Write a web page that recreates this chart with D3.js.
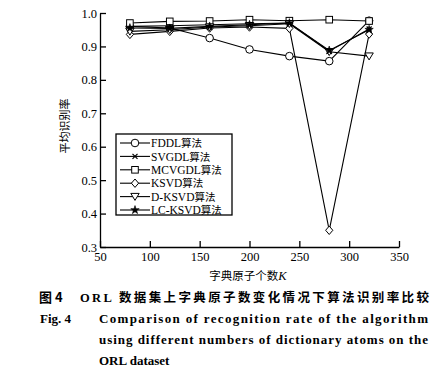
<!DOCTYPE html>
<html>
<head>
<meta charset="utf-8">
<script src="https://cdn.jsdelivr.net/npm/d3@7"></script>
<style>
  body { margin: 0; background: #fff; }
  svg text { font-family: "Liberation Serif", "Noto Sans CJK SC", serif; fill: #000; }
</style>
</head>
<body>
<div id="chart"></div>
<script>
// atom counts K
var atoms = [80, 120, 160, 200, 240, 280, 320];

var names = ["FDDL算法", "SVGDL算法", "MCVGDL算法", "KSVD算法", "D-KSVD算法", "LC-KSVD算法"];
var shapes = ["circle", "cross", "square", "diamond", "triangle", "star"];

var fddl = [0.960, 0.955, 0.925, 0.891, 0.871, 0.856, 0.977];
var svgdl = [0.960, 0.962, 0.965, 0.968, 0.970, 0.886, 0.952];
var mcvgdl = [0.970, 0.975, 0.976, 0.980, 0.977, 0.980, 0.976];
var ksvd = [0.936, 0.945, 0.955, 0.958, 0.954, 0.350, 0.937];
var dksvd = [0.945, 0.950, 0.958, 0.962, 0.968, 0.884, 0.871];
var lcksvd = [0.955, 0.954, 0.960, 0.965, 0.970, 0.888, 0.950];

var series = [fddl, svgdl, mcvgdl, ksvd, dksvd, lcksvd];

var xTicks = [50, 100, 150, 200, 250, 300, 350];
var yTicks = [0.3, 0.4, 0.5, 0.6, 0.7, 0.8, 0.9, 1.0];

var width = 439, height = 374;

var svg = d3.select("#chart").append("svg")
    .attr("width", width)
    .attr("height", height);

var x = d3.scaleLinear().domain([50, 350]).range([100, 399]);
var y = d3.scaleLinear().domain([0.3, 1.0]).range([247, 13]);

// axes, ticks pointing inward
var xAxis = svg.append("g")
    .attr("transform", "translate(0," + y(0.3) + ")")
    .call(d3.axisBottom(x).tickValues(xTicks).tickSize(-6).tickPadding(5).tickSizeOuter(0));
xAxis.select(".domain").attr("stroke-width", 1.3);
xAxis.selectAll("line").attr("stroke-width", 1.3);
xAxis.selectAll("text").style("font-size", "12.5px").style("font-family", "Liberation Serif");

var yAxis = svg.append("g")
    .attr("transform", "translate(" + x(50) + ",0)")
    .call(d3.axisLeft(y).tickValues(yTicks).tickFormat(d3.format(".1f")).tickSize(-6).tickPadding(3).tickSizeOuter(0));
yAxis.select(".domain").attr("stroke-width", 1.3);
yAxis.selectAll("line").attr("stroke-width", 1.3);
yAxis.selectAll("text").style("font-size", "12.5px").style("font-family", "Liberation Serif");

// axis titles
var xt = svg.append("text")
    .attr("x", 248).attr("y", 280)
    .attr("text-anchor", "middle")
    .style("font-size", "11.5px");
xt.append("tspan").style("font-family", "Noto Sans CJK SC").text("字典原子个数");
xt.append("tspan").style("font-style", "italic").style("font-size", "12.5px").text("K");

svg.append("text")
    .attr("transform", "translate(69,126) rotate(-90)")
    .attr("text-anchor", "middle")
    .style("font-family", "Noto Sans CJK SC")
    .style("font-size", "11px")
    .text("平均识别率");

// marker drawing
function marker(g, shape, cx, cy) {
    if (shape == "circle") {
        g.append("circle").attr("cx", cx).attr("cy", cy).attr("r", 3.8)
            .attr("fill", "#fff").attr("stroke", "#000").attr("stroke-width", 1);
    } else if (shape == "cross") {
        g.append("path").attr("d", "M" + (cx - 2.5) + "," + (cy - 2.5) + "L" + (cx + 2.5) + "," + (cy + 2.5) +
            "M" + (cx - 2.5) + "," + (cy + 2.5) + "L" + (cx + 2.5) + "," + (cy - 2.5))
            .attr("stroke", "#000").attr("stroke-width", 1.2);
    } else if (shape == "square") {
        g.append("rect").attr("x", cx - 3.3).attr("y", cy - 3.3).attr("width", 6.6).attr("height", 6.6)
            .attr("fill", "#fff").attr("stroke", "#000").attr("stroke-width", 1);
    } else if (shape == "diamond") {
        g.append("path").attr("d", "M" + cx + "," + (cy - 4.2) + "L" + (cx + 3.6) + "," + cy +
            "L" + cx + "," + (cy + 4.2) + "L" + (cx - 3.6) + "," + cy + "Z")
            .attr("fill", "#fff").attr("stroke", "#000").attr("stroke-width", 1);
    } else if (shape == "triangle") {
        g.append("path").attr("d", "M" + (cx - 4.2) + "," + (cy - 3.2) + "L" + (cx + 4.2) + "," + (cy - 3.2) +
            "L" + cx + "," + (cy + 3.8) + "Z")
            .attr("fill", "#fff").attr("stroke", "#000").attr("stroke-width", 1);
    } else if (shape == "star") {
        g.append("path").attr("d", d3.symbol().type(d3.symbolStar).size(22)())
            .attr("transform", "translate(" + cx + "," + cy + ")")
            .attr("fill", "#000").attr("stroke", "#000").attr("stroke-width", 0.6);
    }
}

var line = d3.line()
    .x(function (d, i) { return x(atoms[i]); })
    .y(function (d) { return y(d); });

series.forEach(function (s, k) {
    var g = svg.append("g").attr("class", "series");
    g.append("path").attr("d", line(s))
        .attr("fill", "none").attr("stroke", "#000").attr("stroke-width", 1.1);
    s.forEach(function (v, i) {
        marker(g, shapes[k], x(atoms[i]), y(v));
    });
});

// legend
var legend = svg.append("g").attr("class", "legend");
legend.append("rect")
    .attr("x", 116).attr("y", 134).attr("width", 116).attr("height", 81)
    .attr("fill", "#fff").attr("stroke", "#000").attr("stroke-width", 1.3);

names.forEach(function (n, i) {
    var ly = 143 + i * 13.4;
    legend.append("line").attr("x1", 120).attr("x2", 150).attr("y1", ly).attr("y2", ly)
        .attr("stroke", "#000").attr("stroke-width", 1.1);
    marker(legend, shapes[i], 135, ly);
    var t = legend.append("text").attr("x", 151).attr("y", ly + 4.2).style("font-size", "11.5px");
    var m = n.match(/^(.*?)(算法)$/);
    t.append("tspan").text(m[1]);
    t.append("tspan").style("font-family", "Noto Sans CJK SC").style("font-size", "10.5px").text(m[2]);
});

// caption
svg.append("text")
    .attr("x", 39).attr("y", 302)
    .style("font-size", "13px").style("font-weight", "bold")
    .style("font-family", "Noto Sans CJK SC")
    .text("图 4");
svg.append("text")
    .attr("x", 80).attr("y", 302)
    .attr("textLength", 349).attr("lengthAdjust", "spacing")
    .style("font-size", "12.5px").style("font-weight", "bold")
    .style("font-family", "Liberation Serif, Noto Sans CJK SC")
    .text("ORL 数据集上字典原子数变化情况下算法识别率比较");

svg.append("text")
    .attr("x", 40).attr("y", 323)
    .style("font-size", "13px").style("font-weight", "bold")
    .text("Fig. 4");

var capLines = ["Comparison of recognition rate of the algorithm",
    "using different numbers of dictionary atoms on the",
    "ORL dataset"];
capLines.forEach(function (c, i) {
    var t = svg.append("text")
        .attr("x", 99).attr("y", 323 + i * 21)
        .style("font-size", "13px").style("font-weight", "bold")
        .text(c);
    if (i < 2) t.attr("textLength", 329).attr("lengthAdjust", "spacing");
});
</script>
</body>
</html>
